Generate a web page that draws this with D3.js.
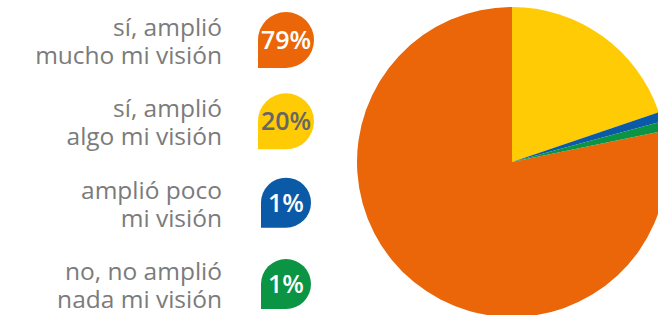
<!DOCTYPE html>
<html>
<head>
<meta charset="utf-8">
<script src="https://cdn.jsdelivr.net/npm/d3@7"></script>
<style>
body { margin: 0; background: #fff; }
svg { display: block; }
</style>
</head>
<body>
<div id="chart"></div>
<script>
var labels = [
    ["sí, amplió", "mucho mi visión"],
    ["sí, amplió", "algo mi visión"],
    ["amplió poco", "mi visión"],
    ["no, no amplió", "nada mi visión"]
];
var values = [79, 20, 1, 1];
var badgeText = ["79%", "20%", "1%", "1%"];
var colours = ["#EA6608", "#FFCB05", "#0B5AA8", "#0A9444"];
var badgeTextColours = ["#fff", "#666", "#fff", "#fff"];

var width = 658, height = 315;
var svg = d3.select("#chart").append("svg")
    .attr("width", width)
    .attr("height", height);

// pie: orange ends at 12 o'clock, others follow clockwise
var total = d3.sum(values);
var a0 = values[0] / total * 2 * Math.PI;
var pie = d3.pie().sort(null).value(function(d) { return d; })
    .startAngle(-a0).endAngle(2 * Math.PI - a0);
var arc = d3.arc().innerRadius(0).outerRadius(155);

svg.append("g")
    .attr("transform", "translate(512,162)")
    .selectAll("path")
    .data(pie(values))
    .enter().append("path")
    .attr("d", arc)
    .style("fill", function(d, i) { return colours[i]; });

// legend rows
var row = d3.scaleLinear().domain([0, 3]).range([36, 280]);

var legend = svg.append("g").selectAll("g")
    .data(labels)
    .enter().append("g")
    .attr("transform", function(d, i) { return "translate(0," + row(i) + ")"; });

legend.each(function(d, i) {
    var g = d3.select(this);
    var t = g.append("text")
        .attr("text-anchor", "end")
        .style("font-family", "'Open Sans', sans-serif")
        .style("font-size", "24.5px")
        .style("fill", "#7b7b7b");
    t.append("tspan").attr("x", 222).attr("y", 0).text(d[0]);
    t.append("tspan").attr("x", 222).attr("y", 28).text(d[1]);

    var r = badgeText[i].length > 2 ? 28 : 25;
    var cx = 286, cy = 4;
    var p = d3.path();
    p.moveTo(cx - r, cy);
    p.arc(cx, cy, r, Math.PI, 2.5 * Math.PI);
    p.lineTo(cx - r, cy + r);
    p.closePath();
    g.append("path")
        .attr("d", p.toString())
        .style("fill", colours[i]);
    g.append("text")
        .attr("x", cx)
        .attr("y", cy + 9)
        .attr("text-anchor", "middle")
        .style("font-family", "'Open Sans', sans-serif")
        .style("font-weight", "600")
        .style("font-size", "25px")
        .style("fill", badgeTextColours[i])
        .text(badgeText[i]);
});
</script>
</body>
</html>
